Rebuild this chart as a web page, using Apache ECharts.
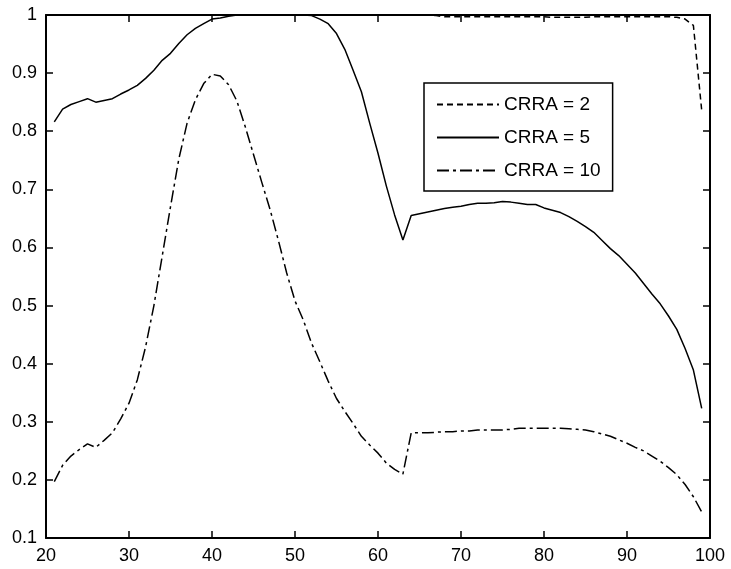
<!DOCTYPE html>
<html>
<head>
<meta charset="utf-8">
<script src="https://cdn.jsdelivr.net/npm/echarts@6/dist/echarts.min.js"></script>
<style>
  html, body { margin: 0; padding: 0; background: #fff; }
  #main { width: 731px; height: 569px; }
</style>
</head>
<body>
<div id="main"></div>
<script>
// ages 21..99
var ages = [];
for (var a = 21; a <= 99; a++) ages.push(a);

var crra2 = [
  1, 1, 1, 1, 1, 1, 1, 1, 1, 1,             // 21-30
  1, 1, 1, 1, 1, 1, 1, 1, 1, 1,             // 31-40
  1, 1, 1, 1, 1, 1, 1, 1, 1, 1,             // 41-50
  1, 1, 1, 1, 1, 1, 1, 1, 1, 1,             // 51-60
  1, 1, 1, 1, 1, 1, 0.999, 0.997, 0.997, 0.997, // 61-70
  0.997, 0.997, 0.997, 0.997, 0.997, 0.997, 0.997, 0.997, 0.997, 0.997, // 71-80
  0.996, 0.996, 0.996, 0.996, 0.996, 0.997, 0.997, 0.997, 0.997, 0.997, // 81-90
  0.997, 0.997, 0.997, 0.997, 0.997, 0.996, 0.993, 0.982, 0.836          // 91-99
];

var crra5 = [
  0.816, 0.838, 0.846, 0.851, 0.856, 0.850, 0.853, 0.856, 0.864, 0.871, // 21-30
  0.879, 0.891, 0.905, 0.922, 0.934, 0.951, 0.966, 0.977, 0.985, 0.993, // 31-40
  0.995, 0.998, 1, 1, 1, 1, 1, 1, 1, 1,                                 // 41-50
  1, 0.999, 0.993, 0.985, 0.968, 0.941, 0.905, 0.868, 0.814, 0.762,     // 51-60
  0.706, 0.656, 0.613, 0.655, 0.658, 0.661, 0.664, 0.667, 0.669, 0.671, // 61-70
  0.674, 0.676, 0.676, 0.677, 0.679, 0.678, 0.676, 0.674, 0.674, 0.668, // 71-80
  0.664, 0.660, 0.653, 0.645, 0.636, 0.626, 0.612, 0.598, 0.586, 0.571, // 81-90
  0.556, 0.538, 0.520, 0.503, 0.482, 0.459, 0.426, 0.389, 0.323         // 91-99
];

var crra10 = [
  0.197, 0.225, 0.241, 0.252, 0.262, 0.256, 0.268, 0.281, 0.305, 0.332, // 21-30
  0.372, 0.429, 0.500, 0.585, 0.670, 0.752, 0.814, 0.854, 0.882, 0.898, // 31-40
  0.895, 0.880, 0.852, 0.808, 0.760, 0.712, 0.665, 0.612, 0.556, 0.508, // 41-50
  0.475, 0.435, 0.403, 0.370, 0.340, 0.318, 0.297, 0.275, 0.260, 0.246, // 51-60
  0.229, 0.218, 0.210, 0.281, 0.281, 0.281, 0.282, 0.283, 0.283, 0.284, // 61-70
  0.284, 0.286, 0.286, 0.286, 0.286, 0.287, 0.289, 0.289, 0.289, 0.289, // 71-80
  0.289, 0.289, 0.288, 0.287, 0.286, 0.283, 0.279, 0.275, 0.269, 0.263, // 81-90
  0.256, 0.250, 0.241, 0.232, 0.221, 0.209, 0.192, 0.171, 0.145         // 91-99
];

var seriesNames = ['CRRA = 2', 'CRRA = 5', 'CRRA = 10'];
var xTicks = { min: 20, max: 100, interval: 10 };
var yTicks = { min: 0.1, max: 1, interval: 0.1 };

function pairs(ys) {
  return ages.map(function (x, i) { return [x, ys[i]]; });
}

var font = 'Liberation Sans, Arial, Helvetica, sans-serif';

// box axes like matlab: ticks inside on all four sides
function boxAxis(pos, range, withLabels) {
  var ax = {
    type: 'value',
    position: pos,
    min: range.min, max: range.max, interval: range.interval,
    axisLine: { show: true, onZero: false, lineStyle: { color: '#000', width: 2 } },
    axisTick: { show: true, inside: true, length: 7, lineStyle: { color: '#000', width: 1.5 } },
    splitLine: { show: false },
    axisLabel: { show: false }
  };
  if (withLabels) {
    ax.axisLabel = {
      show: true, color: '#000', fontSize: 18, fontFamily: font, margin: 9,
      formatter: function (v) { return String(Math.round(v * 10) / 10); }
    };
  }
  return ax;
}

var chart = echarts.init(document.getElementById('main'));
chart.setOption({
  animation: false,
  backgroundColor: '#fff',
  grid: { left: 46, right: 21, top: 15, bottom: 31 },
  legend: {
    orient: 'vertical',
    left: 424,
    top: 83,
    padding: [12, 12, 11, 12],
    itemGap: 14,
    itemWidth: 62,
    itemHeight: 14,
    borderColor: '#000',
    borderWidth: 1.5,
    backgroundColor: '#fff',
    itemStyle: { color: 'rgba(0,0,0,0)', borderWidth: 0 },
    textStyle: { color: '#000', fontSize: 19, lineHeight: 14, fontFamily: font },
    data: seriesNames
  },
  xAxis: [
    boxAxis('bottom', xTicks, true),
    boxAxis('top', xTicks, false)
  ],
  yAxis: [
    boxAxis('left', yTicks, true),
    boxAxis('right', yTicks, false)
  ],
  series: [
    {
      name: seriesNames[0], type: 'line', data: pairs(crra2),
      symbol: 'none', showSymbol: false,
      itemStyle: { color: '#000' },
      lineStyle: { color: '#000', width: 1.5, type: [6, 4] }
    },
    {
      name: seriesNames[1], type: 'line', data: pairs(crra5),
      symbol: 'none', showSymbol: false,
      itemStyle: { color: '#000' },
      lineStyle: { color: '#000', width: 1.5, type: 'solid' }
    },
    {
      name: seriesNames[2], type: 'line', data: pairs(crra10),
      symbol: 'none', showSymbol: false,
      itemStyle: { color: '#000' },
      lineStyle: { color: '#000', width: 1.5, type: [12, 4, 3, 4] }
    }
  ]
});
</script>
</body>
</html>
